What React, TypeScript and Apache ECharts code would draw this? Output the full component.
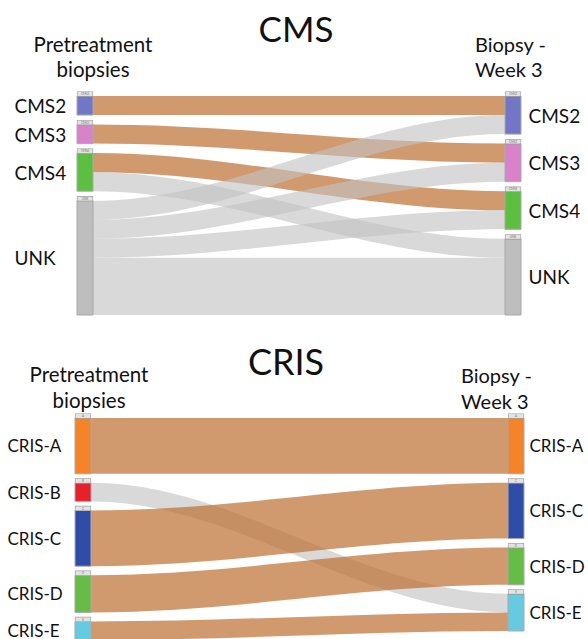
import React, { useEffect, useRef } from 'react';
import * as echarts from 'echarts';

// ---- Data ----
const cmsLeft = ['CMS2', 'CMS3', 'CMS4', 'UNK'];
const cmsRight = ['CMS2', 'CMS3', 'CMS4', 'UNK'];
const cmsFlows: [string, string, number][] = [
  ['CMS2', 'CMS2', 1],
  ['CMS3', 'CMS3', 1],
  ['CMS4', 'CMS4', 1],
  ['CMS4', 'UNK', 1],
  ['UNK', 'CMS2', 1],
  ['UNK', 'CMS3', 1],
  ['UNK', 'CMS4', 1],
  ['UNK', 'UNK', 3],
];

const crisLeft = ['CRIS-A', 'CRIS-B', 'CRIS-C', 'CRIS-D', 'CRIS-E'];
const crisRight = ['CRIS-A', 'CRIS-C', 'CRIS-D', 'CRIS-E'];
const crisFlows: [string, string, number][] = [
  ['CRIS-A', 'CRIS-A', 3],
  ['CRIS-B', 'CRIS-E', 1],
  ['CRIS-C', 'CRIS-C', 3],
  ['CRIS-D', 'CRIS-D', 2],
  ['CRIS-E', 'CRIS-E', 1],
];

const titles = ['CMS', 'CRIS'];
const leftHeader = 'Pretreatment\nbiopsies';
const rightHeader = 'Biopsy -\nWeek 3';

// ---- Styles ----
const nodeColors: Record<string, string> = {
  CMS2: '#7276c6',
  CMS3: '#d882cc',
  CMS4: '#5dbf41',
  UNK: '#bebebe',
  'CRIS-A': '#f4832a',
  'CRIS-B': '#e5212b',
  'CRIS-C': '#2f4ca6',
  'CRIS-D': '#66bc46',
  'CRIS-E': '#66cbe0',
};
const FONT = 'Lato';
const ORANGE = '#bd6f30';
const GREY = '#c2c2c2';

function headerText(n: string) {
  return n.startsWith('CRIS-') ? n.slice(5) : n;
}

function buildNodes(left: string[], right: string[], labelDist: [number, number]) {
  const nodes: any[] = [];
  left.forEach((n) =>
    nodes.push({
      name: 'L|' + n,
      itemStyle: { color: nodeColors[n] },
      label: { position: 'left', distance: labelDist[0] },
    })
  );
  right.forEach((n) =>
    nodes.push({
      name: 'R|' + n,
      itemStyle: { color: nodeColors[n] },
      label: { position: 'right', distance: labelDist[1] },
    })
  );
  return nodes;
}

function buildLinks(flows: [string, string, number][]) {
  return flows.map(([s, t, v]) => {
    const same = s === t && s !== 'UNK';
    return {
      source: 'L|' + s,
      target: 'R|' + t,
      value: v,
      lineStyle: { color: same ? ORANGE : GREY, opacity: same ? 0.7 : 0.62 },
    };
  });
}

function sankeyPair(
  left: string[],
  right: string[],
  flows: [string, string, number][],
  box: { left: number; right: number; top: number; bottom: number; gap: number },
  fontSize: number,
  leftLabelWidth: number,
  rightDist: number
) {
  const common = {
    type: 'sankey',
    left: box.left,
    right: box.right,
    top: box.top,
    bottom: box.bottom,
    nodeWidth: 16,
    nodeGap: box.gap,
    layoutIterations: 0,
    draggable: false,
    silent: true,
    emphasis: { disabled: true },
  };
  const main = {
    ...common,
    data: buildNodes(left, right, [10, rightDist]),
    links: buildLinks(flows),
    lineStyle: { curveness: 0.35 },
    itemStyle: { borderColor: '#a9a9a9', borderWidth: 1 },
    label: {
      fontFamily: FONT,
      fontSize,
      color: '#111',
      formatter: (p: any) => {
        const [side, n] = p.name.split('|');
        return side === 'L' ? '{l|' + n + '}' : n;
      },
      rich: {
        l: { fontFamily: FONT, fontSize, color: '#111', width: leftLabelWidth, align: 'left' },
      },
    },
  };
  const headers = {
    ...common,
    z: 3,
    data: buildNodes(left, right, [0, 0]).map((d) => ({
      ...d,
      itemStyle: { color: 'rgba(0,0,0,0)', borderWidth: 0 },
      label: { position: 'top', distance: 0 },
    })),
    links: buildLinks(flows).map((l) => ({ ...l, lineStyle: { opacity: 0 } })),
    label: {
      fontFamily: FONT,
      fontSize: 3,
      lineHeight: 4,
      color: '#777',
      backgroundColor: '#e3e3e3',
      borderColor: '#9a9a9a',
      borderWidth: 0.6,
      width: 15,
      height: 4,
      padding: 0,
      formatter: (p: any) => headerText(p.name.split('|')[1]),
    },
  };
  return [main, headers];
}

export default function App() {
  const ref = useRef<HTMLDivElement>(null);
  useEffect(() => {
    if (!ref.current) return;
    const chart = echarts.init(ref.current, null, { renderer: 'svg' });
    const textStyle = (size: number, align: string) => ({
      font: `${size}px ${FONT}`,
      fill: '#111',
      textAlign: align,
      textVerticalAlign: 'middle',
    });
    chart.setOption({
      animation: false,
      backgroundColor: '#ffffff',
      graphic: [
        { type: 'text', x: 296, y: 28, style: { text: titles[0], ...textStyle(35, 'center') } },
        { type: 'text', x: 93, y: 56, style: { text: leftHeader, lineHeight: 25, ...textStyle(20.5, 'center') } },
        { type: 'text', x: 475, y: 56, style: { text: rightHeader, lineHeight: 25, ...textStyle(20, 'left') } },
        { type: 'text', x: 286, y: 361, style: { text: titles[1], ...textStyle(36, 'center') } },
        { type: 'text', x: 89, y: 387, style: { text: leftHeader, lineHeight: 26, ...textStyle(20.5, 'center') } },
        { type: 'text', x: 461, y: 388, style: { text: rightHeader, lineHeight: 26, ...textStyle(20, 'left') } },
      ],
      series: [
        ...sankeyPair(cmsLeft, cmsRight, cmsFlows, { left: 77, right: 67, top: 96, bottom: 324, gap: 9.5 }, 19, 52, 7),
        ...sankeyPair(crisLeft, crisRight, crisFlows, { left: 75, right: 64, top: 418, bottom: -1, gap: 9 }, 17, 57, 5),
      ],
    });
    return () => chart.dispose();
  }, []);
  return (
    <div
      ref={ref}
      style={{ position: 'fixed', left: 0, top: 0, width: 588, height: 639, background: '#fff' }}
    />
  );
}
